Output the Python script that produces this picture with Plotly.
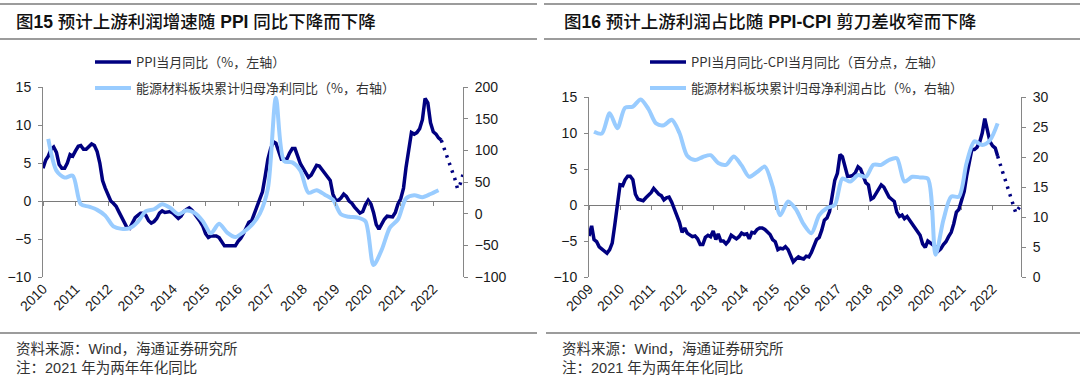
import plotly.graph_objects as go
import pandas as pd

W, H = 1080, 381

# ---------------- 图15 data ----------------
ppi_start = "2010-01-01"
ppi_yoy = [
    4.3, 5.4, 5.9, 6.8, 7.1, 6.4, 4.8, 4.3, 4.3, 5.0, 6.1, 5.9,
    6.6, 7.2, 7.3, 6.8, 6.8, 7.1, 7.5, 7.3, 6.5, 5.0, 2.7, 1.7,
    0.7, 0.0, -0.3, -0.7, -1.4, -2.1, -2.9, -3.5, -3.6, -2.8, -2.2, -1.9,
    -1.6, -1.6, -1.9, -2.6, -2.9, -2.7, -2.3, -1.6, -1.3, -1.5, -1.4, -1.4,
    -1.6, -2.0, -2.3, -2.0, -1.4, -1.1, -0.9, -1.2, -1.8, -2.2, -2.7, -3.3,
    -4.3, -4.8, -4.6, -4.6, -4.6, -4.8, -5.4, -5.9, -5.9, -5.9, -5.9, -5.9,
    -5.3, -4.9, -4.3, -3.4, -2.8, -2.6, -1.7, -0.8, 0.1, 1.2, 3.3, 5.5,
    6.9, 7.8, 7.6, 6.4, 5.5, 5.5, 5.5, 6.3, 6.9, 6.9, 5.8, 4.9,
    4.3, 3.7, 3.1, 3.4, 4.1, 4.7, 4.6, 4.1, 3.6, 3.3, 2.7, 0.9,
    0.1, 0.1, 0.4, 0.9, 0.6, 0.0, -0.3, -0.8, -1.2, -1.6, -1.4, -0.5,
    0.1, -0.4, -1.5, -3.1, -3.7, -3.0, -2.4, -2.0, -2.1, -2.1, -1.5, -0.4,
    0.3, 1.7, 4.4, 6.8, 9.0, 8.8, 9.0, 9.5, 10.7, 13.5, 12.9, 10.3,
    9.1, 8.8, 8.3, 8.0,
]
ppi_fc_start = "2022-04-01"
ppi_fc = [8.0, 7.0, 6.0, 5.0, 4.0, 2.9, 1.6, 2.3, 3.5]

profit_start = "2010-03-01"   # quarterly (cumulative)
profit_yoy = [
    118, 68, 57, 60,
    15, 11, 6, -3,
    -20, -24, -23, -13,
    4, 7, 15, 9,
    -1, 5, 1, -12,
    -31, -16, -30, -37,
    -29, -18, 0, 40,
    183, 83, 81, 68,
    33, 37, 30, 22,
    -1, -5, -6, -12,
    -81, -57, -22, -9,
    24, 29, 26, 31,
    37,
]

# ---------------- 图16 data ----------------
spread_start = "2009-01-01"
ppi_cpi = [
    -4.3, -2.9, -4.8, -5.1, -5.8, -6.1, -6.4, -6.7, -6.2, -5.3, -2.7, -0.2,
    2.8, 2.7, 3.5, 4.0, 4.0, 3.5, 1.5, 0.8, 0.7, 0.6, 1.0, 1.3,
    1.7, 2.3, 1.9, 1.5, 1.3, 0.7, 1.0, 1.1, 0.4, -0.5, -1.5, -2.4,
    -3.8, -3.2, -3.9, -4.1, -4.4, -4.3, -4.7, -5.5, -5.5, -4.5, -4.2, -4.4,
    -3.6, -4.8, -4.0, -5.0, -5.0, -5.4, -5.0, -4.2, -4.4, -4.7, -4.4, -3.9,
    -4.1, -4.0, -4.7, -3.8, -3.9, -3.4, -3.2, -3.2, -3.4, -3.8, -4.1, -4.8,
    -5.1, -6.2, -6.0, -6.1, -5.8, -6.2, -7.0, -7.9, -7.5, -7.2, -7.4, -7.5,
    -7.1, -7.2, -6.6, -5.7, -4.8, -4.5, -3.5, -2.1, -1.8, -0.9, 1.0, 3.4,
    4.4, 7.0, 6.7, 5.2, 4.0, 4.0, 4.1, 4.5, 5.3, 5.0, 4.1, 3.1,
    2.8, 0.8, 1.0, 1.6, 2.3, 2.8, 2.5, 1.8, 1.1, 0.8, 0.5, -1.0,
    -1.6, -1.4, -1.9, -1.6, -2.1, -2.7, -3.1, -3.6, -4.2, -5.4, -5.9, -5.0,
    -5.3, -5.6, -5.8, -6.4, -6.1, -5.5, -5.1, -4.4, -3.8, -2.6, -1.0, -0.6,
    0.6, 1.9, 4.0, 5.9, 7.7, 7.7, 8.0, 8.7, 10.0, 12.0, 10.6, 8.8,
    8.2, 7.9, 6.8,
]
spread_fc_start = "2022-03-01"
spread_fc = [6.8, 5.4, 4.5, 3.4, 2.2, 1.0, -0.2, -1.1, -0.5, 0.0]

share_start = "2009-03-01"   # quarterly (cumulative)
profit_share = [
    24.2, 23.9, 27.3, 24.8,
    28.2, 28.4, 29.6, 28.0,
    25.6, 25.3, 26.2, 24.0,
    20.2, 19.5, 20.0, 20.3,
    19.0, 18.7, 20.1, 18.6,
    16.7, 17.5, 18.4, 15.1,
    10.3, 12.6, 11.3, 8.8,
    7.3, 10.3, 11.5, 12.0,
    16.4, 15.9, 17.0, 16.7,
    18.7, 18.7, 19.5, 19.8,
    15.9, 16.7, 16.6, 16.4,
    3.7, 9.5, 13.4, 13.4,
    19.0, 22.6, 22.0, 22.8,
    25.6,
]

# ---------------- text ----------------
title_l = "图<b>15</b> 预计上游利润增速随 <b>PPI</b> 同比下降而下降"
title_r = "图<b>16</b> 预计上游利润占比随 <b>PPI-CPI</b> 剪刀差收窄而下降"
name_ppi = "PPI当月同比（%，左轴）"
name_profit = "能源材料板块累计归母净利同比（%，右轴）"
name_spread = "PPI当月同比-CPI当月同比（百分点，左轴）"
name_share = "能源材料板块累计归母净利润占比（%，右轴）"
source_txt = "资料来源：Wind，海通证券研究所"
note_txt = "注：2021 年为两年年化同比"


def monthly(start, n):
    return pd.date_range(start, periods=n, freq="MS")


def quarterly(start, n):
    return pd.date_range(start, periods=n, freq="3MS")


NAVY = "#000080"
LIGHT = "#99CCFF"
AXIS = "#868686"
CJK = "Noto Sans CJK SC, Liberation Sans, sans-serif"
LAT = "Liberation Sans, Arial, Noto Sans CJK SC, sans-serif"
FC_DASH = "2.5px,5.5px"


def fx(p):
    return p / W


def fy(p):
    return 1 - p / H


L_X = [fx(43), fx(463)]
R_X = [fx(589), fx(1021)]
L_Y = [fy(277), fy(87)]
R_Y = [fy(277), fy(97)]
L_ZERO = L_Y[0] + 10 / 25 * (L_Y[1] - L_Y[0])
R_ZERO = R_Y[0] + 10 / 25 * (R_Y[1] - R_Y[0])

fig = go.Figure()

# ---- left chart ----
fig.add_trace(go.Scatter(x=monthly(ppi_start, len(ppi_yoy)), y=ppi_yoy, mode="lines",
                         name=name_ppi, line=dict(color=NAVY, width=3.5),
                         xaxis="x", yaxis="y", legend="legend", hoverinfo="skip"))
fig.add_trace(go.Scatter(x=monthly(ppi_fc_start, len(ppi_fc)), y=ppi_fc, mode="lines",
                         showlegend=False, line=dict(color=NAVY, width=3.5, dash=FC_DASH),
                         xaxis="x", yaxis="y", hoverinfo="skip"))
fig.add_trace(go.Scatter(x=quarterly(profit_start, len(profit_yoy)), y=profit_yoy, mode="lines",
                         name=name_profit, line=dict(color=LIGHT, width=4, shape="spline", smoothing=0.8),
                         xaxis="x", yaxis="y2", legend="legend2", hoverinfo="skip"))
# tick marks on the zero line
fig.add_trace(go.Scatter(x=[ppi_start], y=[None], showlegend=False, xaxis="x3", yaxis="y",
                         hoverinfo="skip"))

# ---- right chart ----
fig.add_trace(go.Scatter(x=monthly(spread_start, len(ppi_cpi)), y=ppi_cpi, mode="lines",
                         name=name_spread, line=dict(color=NAVY, width=3.5),
                         xaxis="x2", yaxis="y3", legend="legend3", hoverinfo="skip"))
fig.add_trace(go.Scatter(x=monthly(spread_fc_start, len(spread_fc)), y=spread_fc, mode="lines",
                         showlegend=False, line=dict(color=NAVY, width=3.5, dash=FC_DASH),
                         xaxis="x2", yaxis="y3", hoverinfo="skip"))
fig.add_trace(go.Scatter(x=quarterly(share_start, len(profit_share)), y=profit_share, mode="lines",
                         name=name_share, line=dict(color=LIGHT, width=4, shape="spline", smoothing=0.8),
                         xaxis="x2", yaxis="y4", legend="legend4", hoverinfo="skip"))
fig.add_trace(go.Scatter(x=[spread_start], y=[None], showlegend=False, xaxis="x4", yaxis="y3",
                         hoverinfo="skip"))

tickfont = dict(family=LAT, size=14, color="#1a1a1a")

xcommon = dict(type="date", tickformat="%Y", dtick="M12", tickangle=-45, showgrid=False,
               zeroline=False, showline=False, ticks="", tickfont=tickfont, automargin=False)
ycommon = dict(showgrid=False, showline=True, linecolor=AXIS, linewidth=1, ticks="outside",
               ticklen=4, tickcolor=AXIS, tickfont=tickfont, automargin=False,
               ticklabelstandoff=4)
tickaxis = dict(type="date", dtick="M12", showticklabels=False, ticks="outside", ticklen=4,
                tickcolor=AXIS, showgrid=False, zeroline=False, showline=False, anchor="free",
                automargin=False)

legcommon = dict(font=dict(family=CJK, size=13, color="#333333"), bgcolor="rgba(0,0,0,0)",
                 xanchor="left", yanchor="middle", orientation="v", itemclick=False,
                 itemwidth=36)

fig.update_layout(
    width=W, height=H, margin=dict(l=0, r=0, t=0, b=0, pad=0, autoexpand=False),
    paper_bgcolor="white", plot_bgcolor="white",
    xaxis=dict(xcommon, domain=L_X, anchor="y", tick0=ppi_start,
               range=["2010-01-01", "2022-12-01"]),
    xaxis3=dict(tickaxis, overlaying="x", matches="x", tick0=ppi_start, position=L_ZERO),
    yaxis=dict(ycommon, domain=L_Y, anchor="x", side="left", range=[-10, 15], dtick=5,
               zeroline=True, zerolinecolor="#7a7a7a", zerolinewidth=1),
    yaxis2=dict(ycommon, overlaying="y", anchor="x", side="right", range=[-100, 200], dtick=50,
                zeroline=False),
    xaxis2=dict(xcommon, domain=R_X, anchor="y3", tick0=spread_start,
                range=["2009-01-01", "2022-12-01"]),
    xaxis4=dict(tickaxis, overlaying="x2", matches="x2", tick0=spread_start, position=R_ZERO),
    yaxis3=dict(ycommon, domain=R_Y, anchor="x2", side="left", range=[-10, 15], dtick=5,
                zeroline=True, zerolinecolor="#7a7a7a", zerolinewidth=1),
    yaxis4=dict(ycommon, overlaying="y3", anchor="x2", side="right", range=[0, 30], dtick=5,
                zeroline=False),
    legend=dict(legcommon, x=fx(90), y=fy(62)),
    legend2=dict(legcommon, x=fx(90), y=fy(88)),
    legend3=dict(legcommon, x=fx(645), y=fy(62)),
    legend4=dict(legcommon, x=fx(645), y=fy(88)),
    showlegend=True,
)

# horizontal rules
rules = [
    (0, 537, 4), (0, 537, 39), (0, 537, 333),
    (544, 1080, 4), (544, 1080, 39), (546, 1080, 333),
]
for x0, x1, yy in rules:
    fig.add_shape(type="line", xref="paper", yref="paper", x0=fx(x0), x1=fx(x1),
                  y0=fy(yy), y1=fy(yy), line=dict(color="#3a3a3a", width=1.2))


def text(t, xp, yp, size, color="#1a1a1a", weight="normal"):
    fig.add_annotation(text=t, xref="paper", yref="paper", x=fx(xp), y=fy(yp),
                       xanchor="left", yanchor="middle", showarrow=False,
                       font=dict(family=LAT, size=size, color=color, weight=weight))


text(title_l, 14, 22, 17.5, "#111111", 500)
text(title_r, 562, 22, 17.5, "#111111", 500)
text(source_txt, 14, 349, 14.5, "#333333")
text(note_txt, 14, 368, 14.5, "#333333")
text(source_txt, 560, 349, 14.5, "#333333")
text(note_txt, 560, 368, 14.5, "#333333")

fig.write_html(
    "out.html",
    config={"responsive": False, "displayModeBar": False},
    post_script="document.body.style.margin='0';document.body.style.overflow='hidden';",
)
